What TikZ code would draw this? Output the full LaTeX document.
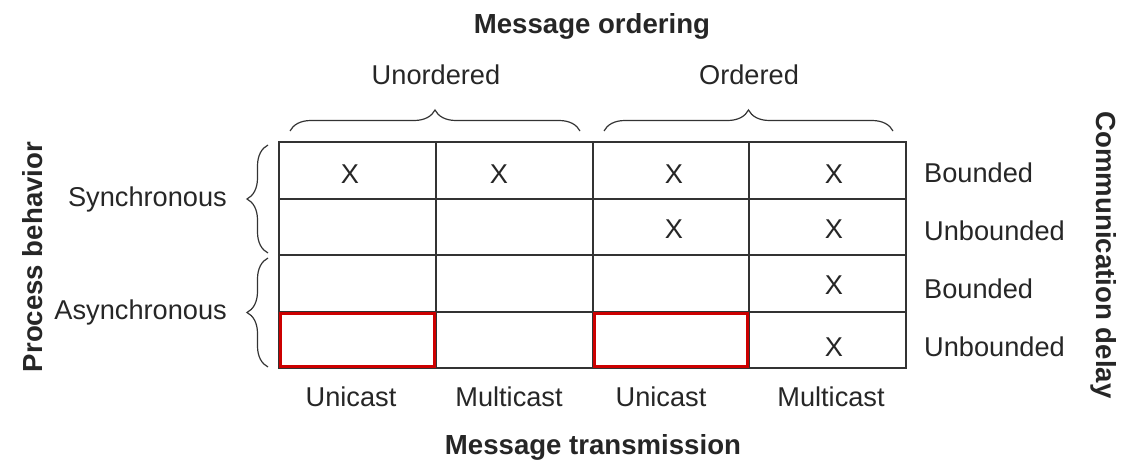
\documentclass[tikz,border=0pt]{standalone}
\usepackage{fontspec}
\setmainfont{Liberation Sans}
\usetikzlibrary{decorations.pathreplacing}

\begin{document}
\begin{tikzpicture}[x=1pt,y=-1pt,
    every node/.style={font=\fontsize{27.2}{31}\selectfont, text=black!85, inner sep=0pt},
    title/.style={font=\fontsize{27.6}{31}\selectfont\bfseries},
    gridline/.style={line width=1.8pt, draw=black!80},
    redbox/.style={line width=3.2pt, draw=red!80!black},
    curly/.style={decorate, decoration={brace, amplitude=21pt}, line width=1.2pt, draw=black!80}]
    \useasboundingbox (0,0) rectangle (1133,471);
    % grid
    \draw[gridline] (279,142) rectangle (906,368);
    \draw[gridline] (436,142) -- (436,368);
    \draw[gridline] (593,142) -- (593,368);
    \draw[gridline] (749,142) -- (749,368);
    \draw[gridline] (279,199) -- (906,199);
    \draw[gridline] (279,255) -- (906,255);
    \draw[gridline] (279,312) -- (906,312);
    % highlighted cells
    \draw[redbox] (280.5,313.5) rectangle (434.5,366.5);
    \draw[redbox] (594.5,313.5) rectangle (747.5,366.5);
    % marks
    \node (x11) at (350,174) {X};
    \node (x12) at (499,174) {X};
    \node (x13) at (674,174) {X};
    \node (x14) at (834,174) {X};
    \node (x23) at (674,229) {X};
    \node (x24) at (834,229) {X};
    \node (x34) at (834,285) {X};
    \node (x44) at (834,347) {X};
    % top
    \node[title, anchor=base] (ordering) at (592,33.5) {Message ordering};
    \node[anchor=base] (unord) at (436,84.5) {Unordered};
    \node[anchor=base] (ord) at (749,84.5) {Ordered};
    \draw[curly] (290,131) -- (580,131);
    \draw[curly] (604,131) -- (893,131);
    % left
    \node[title, anchor=base, rotate=90] (process) at (42.5,257) {Process behavior};
    \node[anchor=base east] (sync) at (227,206.5) {Synchronous};
    \node[anchor=base east] (async) at (227,319.5) {Asynchronous};
    \draw[curly] (268,253) -- (268,145);
    \draw[curly] (268,367) -- (268,258);
    % right
    \node[anchor=base west] (bnd1) at (924,182.5) {Bounded};
    \node[anchor=base west] (ubnd1) at (924,240.5) {Unbounded};
    \node[anchor=base west] (bnd2) at (924,298.5) {Bounded};
    \node[anchor=base west] (ubnd2) at (924,356.5) {Unbounded};
    \node[title, anchor=base, rotate=-90] (delay) at (1096,255) {Communication delay};
    % bottom
    \node[anchor=base] (uni1) at (351,406.5) {Unicast};
    \node[anchor=base] (multi1) at (509,406.5) {Multicast};
    \node[anchor=base] (uni2) at (661,406.5) {Unicast};
    \node[anchor=base] (multi2) at (831,406.5) {Multicast};
    \node[title, anchor=base] (transmission) at (593,454.5) {Message transmission};
\end{tikzpicture}
\end{document}
